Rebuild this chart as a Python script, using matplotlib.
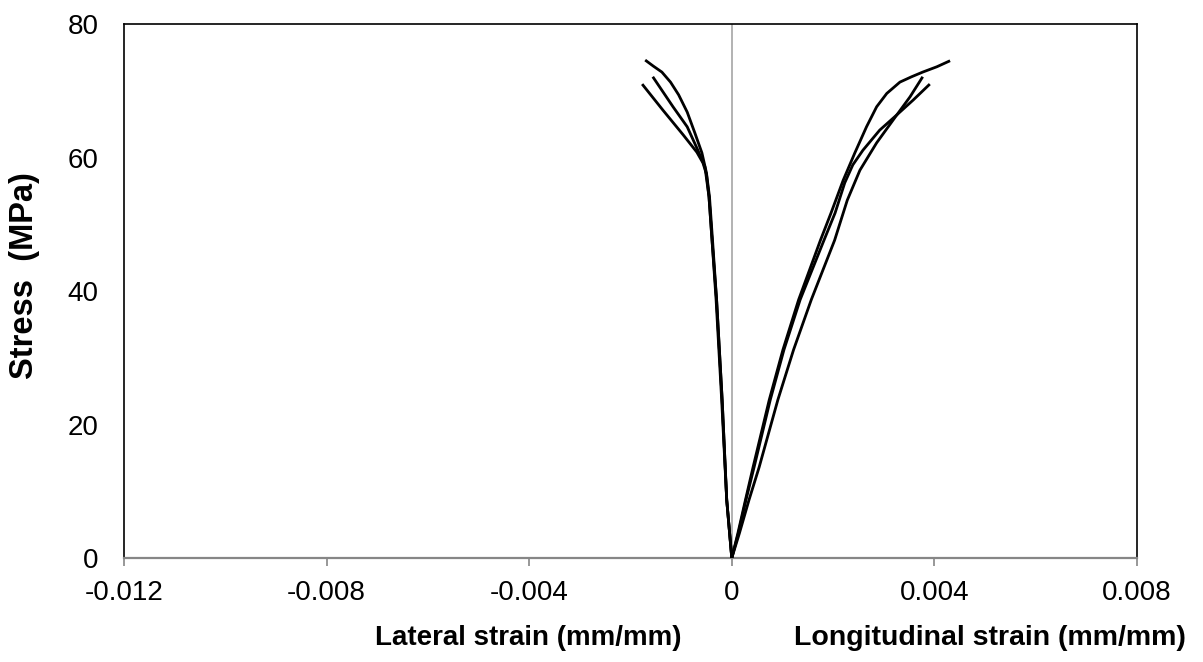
import matplotlib
matplotlib.use("Agg")
import matplotlib.pyplot as plt

plt.rcParams['font.family'] = ['Liberation Sans', 'DejaVu Sans']

# Stress (MPa) at which each strain reading was taken, per specimen
stress_a = [0, 3.7, 8.7, 13.6, 23.7, 31.2, 38.7, 47.6, 51.7, 56.6, 60.7, 64.6, 67.6, 69.6, 71.3, 72.1, 72.8, 73.6, 74.5]
long_a = [0, 0.00012, 0.00027, 0.00042, 0.00074, 0.00101, 0.00132, 0.00175, 0.00196, 0.00220, 0.00243, 0.00266, 0.00286, 0.00306, 0.00332, 0.00355, 0.00377, 0.00405, 0.00431]

stress_b = [0, 3.7, 8.7, 13.6, 23.7, 31.2, 38.7, 47.6, 53.6, 58.1, 62.2, 66.4, 69.1, 72.1]
long_b = [0, 0.00015, 0.00034, 0.00054, 0.00091, 0.00122, 0.00157, 0.00203, 0.00228, 0.00253, 0.00286, 0.00326, 0.00352, 0.00377]

stress_c = [0, 3.7, 8.7, 13.6, 23.7, 31.2, 38.7, 47.6, 51.7, 56.2, 58.9, 61.1, 64.1, 66.4, 68.6, 71.0]
long_c = [0, 0.00013, 0.00028, 0.00044, 0.00076, 0.00103, 0.00135, 0.00182, 0.00204, 0.00223, 0.00239, 0.00259, 0.00292, 0.00326, 0.00358, 0.00391]

lat_stress_a = [0, 8.7, 23.7, 38.7, 47.6, 54.1, 57.7, 60.7, 63.7, 66.8, 69.4, 71.3, 72.8, 73.7, 74.6]
lat_a = [0, -0.00010, -0.00019, -0.00030, -0.00038, -0.00044, -0.00050, -0.00059, -0.00073, -0.00088, -0.00105, -0.00121, -0.00138, -0.00155, -0.00171]

lat_stress_b = [0, 8.7, 23.7, 38.7, 47.6, 54.1, 58.6, 61.1, 64.6, 67.6, 72.1]
lat_b = [0, -0.00010, -0.00019, -0.00030, -0.00039, -0.00045, -0.00053, -0.00067, -0.00088, -0.00116, -0.00156]

lat_stress_c = [0, 8.7, 23.7, 38.7, 47.6, 54.1, 57.5, 59.2, 60.8, 63.4, 67.1, 71.0]
lat_c = [0, -0.00010, -0.00020, -0.00031, -0.00039, -0.00045, -0.00050, -0.00057, -0.00069, -0.00096, -0.00136, -0.00177]

x_ticks = [-0.012, -0.008, -0.004, 0, 0.004, 0.008]
x_tick_labels = ['-0.012', '-0.008', '-0.004', '0', '0.004', '0.008']
y_ticks = [0, 20, 40, 60, 80]

fig = plt.figure(figsize=(12.03, 6.62), dpi=100)
ax = fig.add_axes([0.1031, 0.1571, 0.8420, 0.8066])

ax.axvline(0, color='#A6A6A6', lw=1.2, zorder=1)

for xs, ys in [(long_a, stress_a), (long_b, stress_b), (long_c, stress_c),
               (lat_a, lat_stress_a), (lat_b, lat_stress_b), (lat_c, lat_stress_c)]:
    ax.plot(xs, ys, color='black', lw=2.0, solid_capstyle='butt',
            solid_joinstyle='round', zorder=3)

ax.set_xlim(-0.012, 0.008)
ax.set_ylim(0, 80)
ax.set_xticks(x_ticks)
ax.set_xticklabels(x_tick_labels)
ax.set_yticks(y_ticks)

for side in ['left', 'top', 'right']:
    ax.spines[side].set_color('black')
    ax.spines[side].set_linewidth(1.2)
ax.spines['bottom'].set_color('#868686')
ax.spines['bottom'].set_linewidth(1.6)

ax.tick_params(axis='x', direction='out', length=6, width=1.2, color='#868686',
               labelsize=20, pad=10)
ax.tick_params(axis='y', length=0, labelsize=20, pad=18.5)

fig.text(25 / 1203, 1 - 276 / 662, 'Stress  (MPa)', rotation=90, ha='center', va='center',
         fontsize=23.5, fontweight='bold')
fig.text(528 / 1203, 1 - 638 / 662, 'Lateral strain (mm/mm)', ha='center', va='center',
         fontsize=20, fontweight='bold')
fig.text(990 / 1203, 1 - 638 / 662, 'Longitudinal strain (mm/mm)', ha='center', va='center',
         fontsize=20.5, fontweight='bold')

fig.savefig('out.png', dpi=100)
